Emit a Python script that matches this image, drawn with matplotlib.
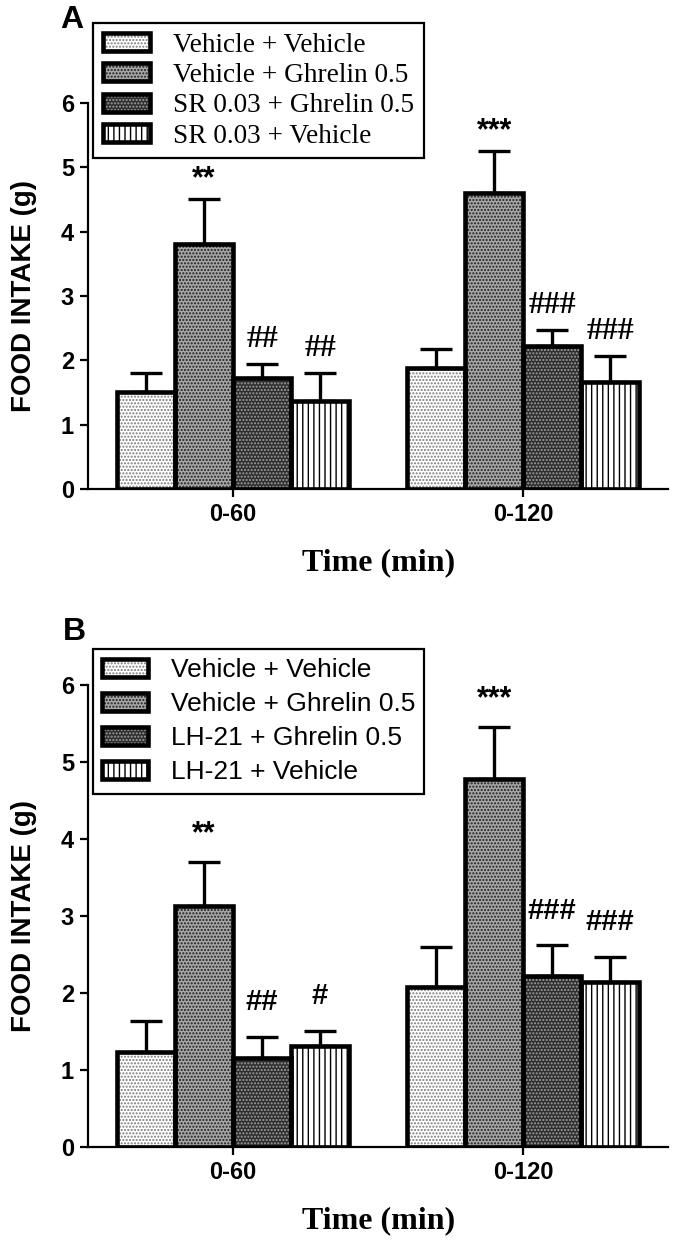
import numpy as np
import matplotlib
matplotlib.use("Agg")
import matplotlib.pyplot as plt

plt.rcParams['hatch.linewidth'] = 1.0

groups = ['0-60', '0-120']
labels_a = ['Vehicle + Vehicle', 'Vehicle + Ghrelin 0.5', 'SR 0.03 + Ghrelin 0.5', 'SR 0.03 + Vehicle']
labels_b = ['Vehicle + Vehicle', 'Vehicle + Ghrelin 0.5', 'LH-21 + Ghrelin 0.5', 'LH-21 + Vehicle']

# means per treatment, [0-60, 0-120]
mean_a = [[1.51, 1.88], [3.81, 4.60], [1.72, 2.22], [1.36, 1.66]]
sem_a = [[0.30, 0.30], [0.70, 0.66], [0.22, 0.25], [0.44, 0.41]]
sig_a = [['', ''], ['**', '***'], ['##', '###'], ['##', '###']]

mean_b = [[1.23, 2.08], [3.13, 4.78], [1.16, 2.22], [1.31, 2.14]]
sem_b = [[0.41, 0.52], [0.57, 0.67], [0.27, 0.40], [0.20, 0.33]]
sig_b = [['', ''], ['**', '***'], ['##', '###'], ['#', '###']]

# fill style for each treatment: face, hatch, hatch colour
styles = [('white', '.....', '#7a7a7a'),
          ('#a6a6a6', '.....', '#1e1e1e'),
          ('#2e2e2e', '.....', '#a0a0a0'),
          ('white', '|||', 'black')]

SANS = 'Liberation Sans'
SERIF = 'Liberation Serif'

fig = plt.figure(figsize=(6.77, 12.42), dpi=100)


def panel(rect, means, sems, sigs, labels, letter, letter_xy, leg_xy, leg_font,
          leg_size, leg_space, sig_serif, off):
    ax = fig.add_axes(rect)
    x = np.arange(len(groups))
    w = 0.2
    handles = []
    for i in range(4):
        xs = x + (i - 1.5) * w
        face, hatch, hc = styles[i]
        b1 = ax.bar(xs, means[i], w, color=face, hatch=hatch, edgecolor=hc,
                    linewidth=0, zorder=2)
        b2 = ax.bar(xs, means[i], w, fill=False, edgecolor='black',
                    linewidth=3.3, zorder=3)
        ax.errorbar(xs, means[i], yerr=[np.zeros(2), sems[i]], fmt='none',
                    ecolor='black', elinewidth=2.4, capsize=11.5, capthick=2.4,
                    zorder=1)
        for j in range(2):
            s = sigs[i][j]
            if not s:
                continue
            top = means[i][j] + sems[i][j]
            if '*' in s:
                ax.annotate(s, (xs[j], top), xytext=(0, off[0]),
                            textcoords='offset points', ha='center', va='center',
                            fontsize=22, fontweight='bold', family=SANS)
            else:
                ax.annotate(s, (xs[j], top), xytext=(0, off[1]),
                            textcoords='offset points', ha='center', va='center',
                            fontsize=23 if sig_serif else 21, fontweight='bold',
                            family=SERIF if sig_serif else SANS)
        handles.append((b1, b2))

    ax.set_xlim(-0.5, 1.5)
    ax.set_ylim(0, 6)
    ax.set_yticks(range(7))
    ax.set_xticks(x)
    ax.set_xticklabels(groups)
    for sp in ['top', 'right']:
        ax.spines[sp].set_visible(False)
    ax.spines['left'].set_linewidth(1.6)
    ax.spines['bottom'].set_linewidth(1.6)
    ax.tick_params(width=1.6, length=6, labelsize=17, pad=4)
    for t in ax.get_xticklabels() + ax.get_yticklabels():
        t.set_fontweight('bold')
        t.set_family(SANS)
    ax.set_ylabel('FOOD INTAKE (g)', fontsize=20, fontweight='bold',
                  family=SANS, labelpad=17)
    ax.set_xlabel('Time (min)', fontsize=23, fontweight='bold', family=SERIF,
                  labelpad=16)

    leg = ax.legend(handles, labels, loc='upper left', bbox_to_anchor=leg_xy,
                    bbox_transform=fig.transFigure, borderaxespad=0,
                    fancybox=False, edgecolor='black', framealpha=1,
                    prop={'family': leg_font, 'size': leg_size},
                    handlelength=1.75, handleheight=0.65, handletextpad=0.85,
                    labelspacing=leg_space, borderpad=0.35)
    leg.get_frame().set_linewidth(1.6)
    leg.set_zorder(5)
    fig.text(letter_xy[0], letter_xy[1], letter, fontsize=23,
             fontweight='bold', family=SANS, ha='center', va='center')
    return ax


panel([0.130, 0.6063, 0.857, 0.3108], mean_a, sem_a, sig_a, labels_a, 'A',
      (72 / 677, 1 - 20 / 1242), (93 / 677, 1 - 23 / 1242), SERIF, 19.6, 0.2,
      True, (14, 17.5))
panel([0.130, 0.0765, 0.857, 0.372], mean_b, sem_b, sig_b, labels_b, 'B',
      (74 / 677, 1 - 632 / 1242), (93 / 677, 1 - 649 / 1242), SANS, 19, 0.38,
      False, (20, 25))

fig.savefig('out.png', dpi=100)
